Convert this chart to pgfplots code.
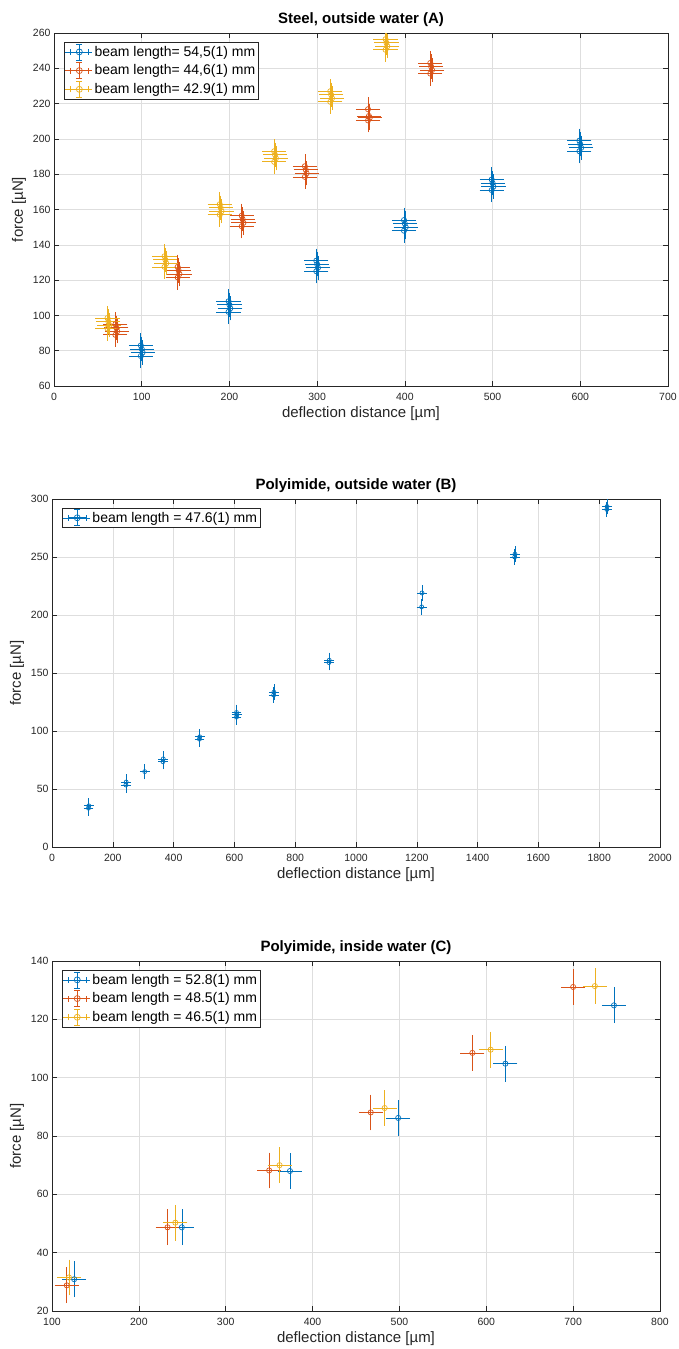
\documentclass[border=0pt]{standalone}
\usepackage{fontspec}
\setmainfont{Liberation Sans}
\usepackage{pgfplots}
\pgfplotsset{compat=1.18}

\definecolor{mblue}{RGB}{0,114,189}
\definecolor{morange}{RGB}{217,83,25}
\definecolor{myellow}{RGB}{237,177,32}
\definecolor{axisgray}{RGB}{38,38,38}
\definecolor{gridgray}{RGB}{222,222,222}

\pgfplotsset{
  mstyle/.style={
    scale only axis, anchor=south west,
    axis line style={draw=axisgray, line width=0.6pt},
    grid=major, major grid style={draw=gridgray, line width=0.5pt},
    tick pos=both, tick align=inside, major tick length=5pt,
    tick style={draw=axisgray, line width=0.5pt},
    ticklabel style={font=\fontsize{10.5}{12}\selectfont, text=axisgray},
    xticklabel style={yshift=-4pt},
    /pgf/number format/assume math mode=true,
    /pgf/number format/set thousands separator={},
    scaled ticks=false,
    label style={font=\fontsize{15}{17}\selectfont, text=axisgray},
    xlabel style={yshift=1pt},
    title style={font=\bfseries\fontsize{15}{17}\selectfont, yshift=-3pt},
    xlabel={deflection distance [µm]}, ylabel={force [µN]},
    legend cell align=left,
    legend style={at={(0.016,0.975)}, anchor=north west, draw=axisgray,
      line width=0.5pt, fill=white, font=\fontsize{14}{16}\selectfont,
      inner xsep=1pt, inner ysep=1.5pt, row sep=2pt},
  },
  ser/.style={only marks, mark=o, color=#1, mark size=2.6pt,
    mark options={line width=0.7pt, draw=#1},
    error bars/.cd,
      y dir=both, y explicit, x dir=both, x explicit,
      error bar style={draw=#1, line width=0.7pt},
      error mark options={draw=#1, line width=0.7pt, mark size=3.3pt},
    /pgfplots/.cd,
    legend image code/.code={
      \path (0pt,0pt) -- (27pt,0pt);
      \draw[draw=#1, line width=0.7pt] (5pt,0pt) -- (23pt,0pt)
        (5pt,-3pt) -- (5pt,3pt) (23pt,-3pt) -- (23pt,3pt)
        (14pt,-8pt) -- (14pt,8pt) (11pt,-8pt) -- (17pt,-8pt) (11pt,8pt) -- (17pt,8pt);
      \draw[draw=#1, line width=0.7pt] (14pt,0pt) circle (3pt);
    }},
}

\begin{document}
\begin{tikzpicture}
\useasboundingbox (0,0) rectangle (678pt,-1349pt);

% (A) steel, outside water
\begin{axis}[mstyle, at={(54pt,-386pt)}, width=614pt, height=353pt,
  title={Steel, outside water (A)},
  xmin=0, xmax=700, ymin=60, ymax=260,
  xtick={0,100,...,700}, ytick={60,80,...,260}]
\addplot[ser=mblue] coordinates {
  (99,77) +- (10,5) (101,79) +- (10,5) (100,81) +- (10,5) (99,83) +- (10,5)
  (199,102) +- (10,5) (201,104) +- (10,5) (200,106) +- (10,5) (199,108) +- (10,5)
  (299,125) +- (10,5) (301,127) +- (10,5) (300,129) +- (10,5) (299,131) +- (10,5)
  (399,148) +- (10,5) (401,150) +- (10,5) (400,152) +- (10,5) (399,154) +- (10,5)
  (499,171) +- (10,5) (501,173) +- (10,5) (500,175) +- (10,5) (499,177) +- (10,5)
  (599,193) +- (10,5) (601,195) +- (10,5) (600,197) +- (10,5) (599,199) +- (10,5)
};
\addlegendentry{beam length= 54,5(1) mm}
\addplot[ser=morange] coordinates {
  (70,89) +- (10,5) (72,91) +- (10,5) (71,93) +- (10,5) (70,95) +- (10,5)
  (141,121.5) +- (10,5) (143,123.5) +- (10,5) (142,125.5) +- (10,5) (141,127.5) +- (10,5)
  (214,150.5) +- (10,5) (216,152.5) +- (10,5) (215,154.5) +- (10,5) (214,156.5) +- (10,5)
  (286,178.5) +- (10,5) (288,180.5) +- (10,5) (287,182.5) +- (10,5) (286,184.5) +- (10,5)
  (358,210.5) +- (10,5) (360,212) +- (10,5) (359,213) +- (10,5) (358,216.8) +- (10,5)
  (429,237) +- (10,5) (431,239) +- (10,5) (430,241) +- (10,5) (429,243) +- (10,5)
};
\addlegendentry{beam length= 44,6(1) mm}
\addplot[ser=myellow] coordinates {
  (61,92.5) +- (10,5) (63,94.5) +- (10,5) (62,96.5) +- (10,5) (61,98.5) +- (10,5)
  (126,127.5) +- (10,5) (128,129.5) +- (10,5) (127,131.5) +- (10,5) (126,133.5) +- (10,5)
  (189,157) +- (10,5) (191,159) +- (10,5) (190,161) +- (10,5) (189,163) +- (10,5)
  (251,187) +- (10,5) (253,189) +- (10,5) (252,191) +- (10,5) (251,193) +- (10,5)
  (315,221) +- (10,5) (317,223) +- (10,5) (316,225) +- (10,5) (315,227) +- (10,5)
  (378,250.5) +- (10,5) (380,252.5) +- (10,5) (379,254.5) +- (10,5) (378,256.5) +- (10,5)
};
\addlegendentry{beam length= 42.9(1) mm}
\end{axis}

% (B) polyimide, outside water
\begin{axis}[mstyle, at={(52pt,-847pt)}, width=608pt, height=348pt,
  title={Polyimide, outside water (B)},
  xmin=0, xmax=2000, ymin=0, ymax=300,
  xtick={0,200,...,2000}, ytick={0,50,...,300}]
\addplot[ser=mblue, mark size=2pt,
  error bars/error mark options={draw=mblue, line width=0.7pt, mark size=2.5pt}] coordinates {
  (120,33.5) +- (8,4.5) (121,35.5) +- (8,4.5)
  (243,53.5) +- (8,4.5) (244,56) +- (8,4.5)
  (305,65) +- (8,4.5)
  (365,73.5) +- (8,4.5) (366,76) +- (8,4.5)
  (485,93) +- (8,4.5) (486,95) +- (8,4.5)
  (607,112) +- (8,4.5) (608,114) +- (8,4.5) (607,116) +- (8,4.5)
  (729,131) +- (8,4.5) (730,133.5) +- (8,4.5)
  (911,159) +- (8,4.5) (912,161) +- (8,4.5)
  (1216,207) +- (8,4.5) (1217,219) +- (8,4.5)
  (1522,250) +- (8,4.5) (1523,252.5) +- (8,4.5)
  (1825,291) +- (8,4.5) (1826,293.5) +- (8,4.5)
};
\addlegendentry{beam length = 47.6(1) mm}
\end{axis}

% (C) polyimide, inside water
\begin{axis}[mstyle, at={(52pt,-1311pt)}, width=608pt, height=350pt,
  title={Polyimide, inside water (C)},
  xmin=100, xmax=800, ymin=20, ymax=140,
  xtick={100,200,...,800}, ytick={20,40,...,140}]
\addplot[ser=mblue] coordinates {
  (125.5,30.9) +- (10,5) (249.5,48.7) +- (10,5) (374,68) +- (10,5)
  (498.6,86.2) +- (10,5) (622,104.8) +- (10,5) (747,124.8) +- (10,5)
};
\addlegendentry{beam length = 52.8(1) mm}
\addplot[ser=morange] coordinates {
  (117,28.8) +- (10,5) (233,48.7) +- (10,5) (350,68.2) +- (10,5)
  (467,88.1) +- (10,5) (584,108.5) +- (10,5) (700,131.1) +- (10,5)
};
\addlegendentry{beam length = 48.5(1) mm}
\addplot[ser=myellow] coordinates {
  (119.5,31.5) +- (10,5) (242,50.3) +- (10,5) (362,70) +- (10,5)
  (483,89.6) +- (10,5) (605,109.6) +- (10,5) (725,131.4) +- (10,5)
};
\addlegendentry{beam length = 46.5(1) mm}
\end{axis}
\end{tikzpicture}
\end{document}
